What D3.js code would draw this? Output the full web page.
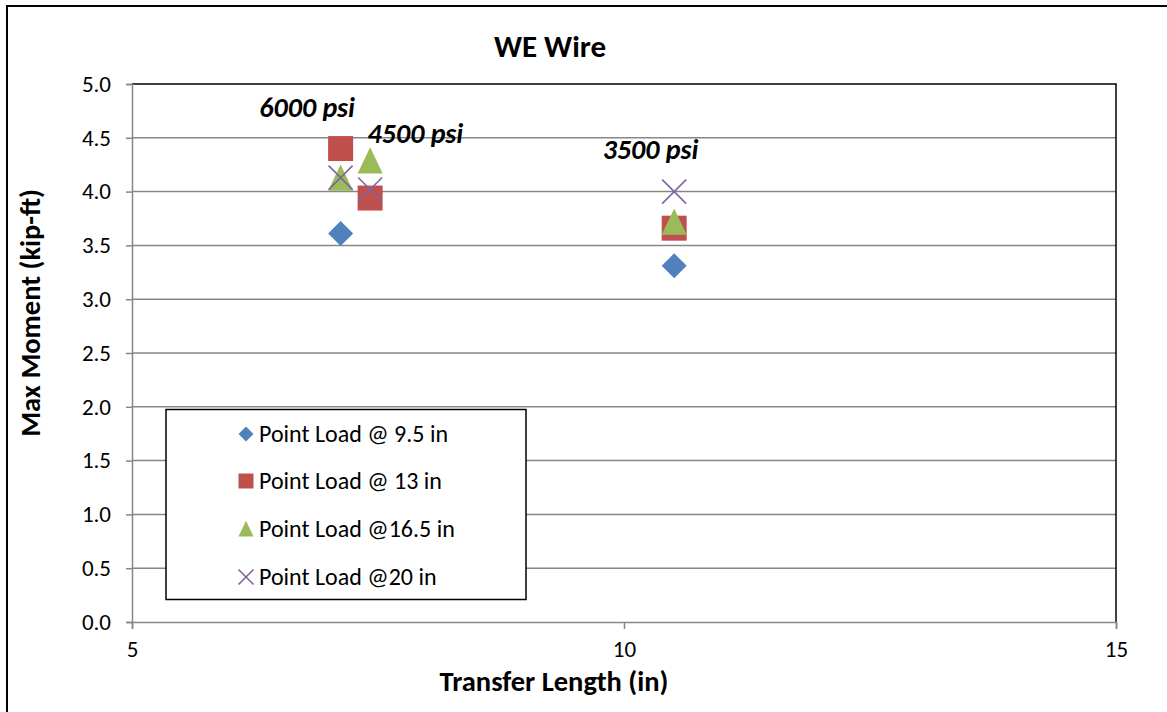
<!DOCTYPE html>
<html><head><meta charset="utf-8">
<script src="https://cdn.jsdelivr.net/npm/d3@7"></script>
<style>
body{margin:0;background:#fff;}
text{font-family:Carlito,Calibri,Lato,sans-serif;}
</style></head>
<body><svg id="c" width="1167" height="712"></svg>
<script>
const seriesNames = ["Point Load @ 9.5 in","Point Load @ 13 in","Point Load @16.5 in","Point Load @20 in"];
const seriesColors = ["#4F81BD","#C0504D","#9BBB59","#8064A2"];
const seriesShapes = ["diamond","square","triangle","x"];
const transferLength = [7.12, 7.42, 10.51];
const load95x = [7.12, 10.51];
const load95 = [3.61, 3.31];
const load13 = [4.40, 3.94, 3.66];
const load165 = [4.13, 4.29, 3.72];
const load20 = [4.13, 4.02, 4.00];
const seriesValues = [load95, load13, load165, load20];
const seriesX = [load95x, transferLength, transferLength, transferLength];
const annotationLabels = ["6000 psi","4500 psi","3500 psi"];
const annotationX = [6.78, 7.88, 10.27];
const annotationY = [4.69, 4.455, 4.30];
const xTicks = [5,10,15];
const yTicks = [0,0.5,1,1.5,2,2.5,3,3.5,4,4.5,5];

const svg = d3.select("#c");
const L=132, R=1116, T=84, B=622;
const x = d3.scaleLinear().domain([5,15]).range([L,R]);
const y = d3.scaleLinear().domain([0,5]).range([B,T]);

svg.append("rect").attr("x",7).attr("y",6).attr("width",1200).attr("height",800)
  .attr("fill","#fff").attr("stroke","#000").attr("stroke-width",2);

// gridlines
svg.append("g").selectAll("line").data(yTicks.filter(d=>d>0&&d<5)).join("line")
  .attr("x1",L).attr("x2",R).attr("y1",d=>y(d)).attr("y2",d=>y(d))
  .attr("stroke","#878787").attr("stroke-width",1.5);
// plot border top & right
svg.append("line").attr("x1",L).attr("x2",R+0.75).attr("y1",T).attr("y2",T).attr("stroke","#000").attr("stroke-width",1.5);
svg.append("line").attr("x1",R).attr("x2",R).attr("y1",T).attr("y2",B).attr("stroke","#000").attr("stroke-width",1.5);

// axes
const yAxis = svg.append("g").attr("transform",`translate(${L},0)`)
  .call(d3.axisLeft(y).tickValues(yTicks).tickFormat(d3.format(".1f")).tickSize(6).tickPadding(15));
const xAxis = svg.append("g").attr("transform",`translate(0,${B})`)
  .call(d3.axisBottom(x).tickValues(xTicks).tickFormat(d3.format("d")).tickSize(7).tickPadding(12));
[yAxis,xAxis].forEach(a=>{
  a.select(".domain").attr("stroke","#878787").attr("stroke-width",1.5);
  a.selectAll(".tick line").attr("stroke","#878787").attr("stroke-width",1.5);
  a.selectAll(".tick text").attr("font-size",23).attr("fill","#000").style("font-family","Carlito,Calibri,Lato,sans-serif");
});

function drawMarker(g, shape, color, cx, cy, s){
  if(shape==="diamond"){
    g.append("path").attr("d",`M${cx},${cy-s/2}L${cx+s/2},${cy}L${cx},${cy+s/2}L${cx-s/2},${cy}Z`).attr("fill",color);
  } else if(shape==="square"){
    g.append("rect").attr("x",cx-s/2).attr("y",cy-s/2).attr("width",s).attr("height",s).attr("fill",color);
  } else if(shape==="triangle"){
    const h=s*1.05;
    g.append("path").attr("d",`M${cx},${cy-h/2}L${cx+s/2},${cy+h/2}L${cx-s/2},${cy+h/2}Z`).attr("fill",color);
  } else {
    const r=s/2;
    g.append("path").attr("d",`M${cx-r},${cy-r}L${cx+r},${cy+r}M${cx-r},${cy+r}L${cx+r},${cy-r}`)
      .attr("stroke",color).attr("stroke-width",1.6).attr("fill","none");
  }
}
const pts = svg.append("g");
seriesValues.forEach((vals,i)=>{
  vals.forEach((v,j)=>{
    drawMarker(pts, seriesShapes[i], seriesColors[i], x(seriesX[i][j]), y(v), i===3?24:25);
  });
});

// annotations
svg.append("g").selectAll("text").data(annotationLabels).join("text")
  .attr("x",(d,i)=>x(annotationX[i])).attr("y",(d,i)=>y(annotationY[i])).attr("text-anchor","middle")
  .attr("font-size",28).attr("font-weight","bold").attr("font-style","italic").text(d=>d);

// legend
const lg = svg.append("g");
lg.append("rect").attr("x",166).attr("y",409.5).attr("width",360).attr("height",190)
  .attr("fill","#fff").attr("stroke","#000").attr("stroke-width",1.5);
const rowY = [434,481,528.5,577];
seriesNames.forEach((n,i)=>{
  drawMarker(lg, seriesShapes[i], seriesColors[i], 246, rowY[i], 15);
  lg.append("text").attr("x",259).attr("y",rowY[i]).attr("dy","0.34em").attr("font-size",24).text(n);
});

// titles
svg.append("text").attr("x",550).attr("y",57).attr("text-anchor","middle").attr("font-size",31).attr("font-weight","bold").text("WE Wire");
svg.append("text").attr("x",554).attr("y",691).attr("text-anchor","middle").attr("font-size",28.5).attr("font-weight","bold").text("Transfer Length (in)");
svg.append("text").attr("transform","translate(40,313) rotate(-90)").attr("text-anchor","middle").attr("font-size",28.5).attr("font-weight","bold").text("Max Moment (kip-ft)");
</script></body></html>
